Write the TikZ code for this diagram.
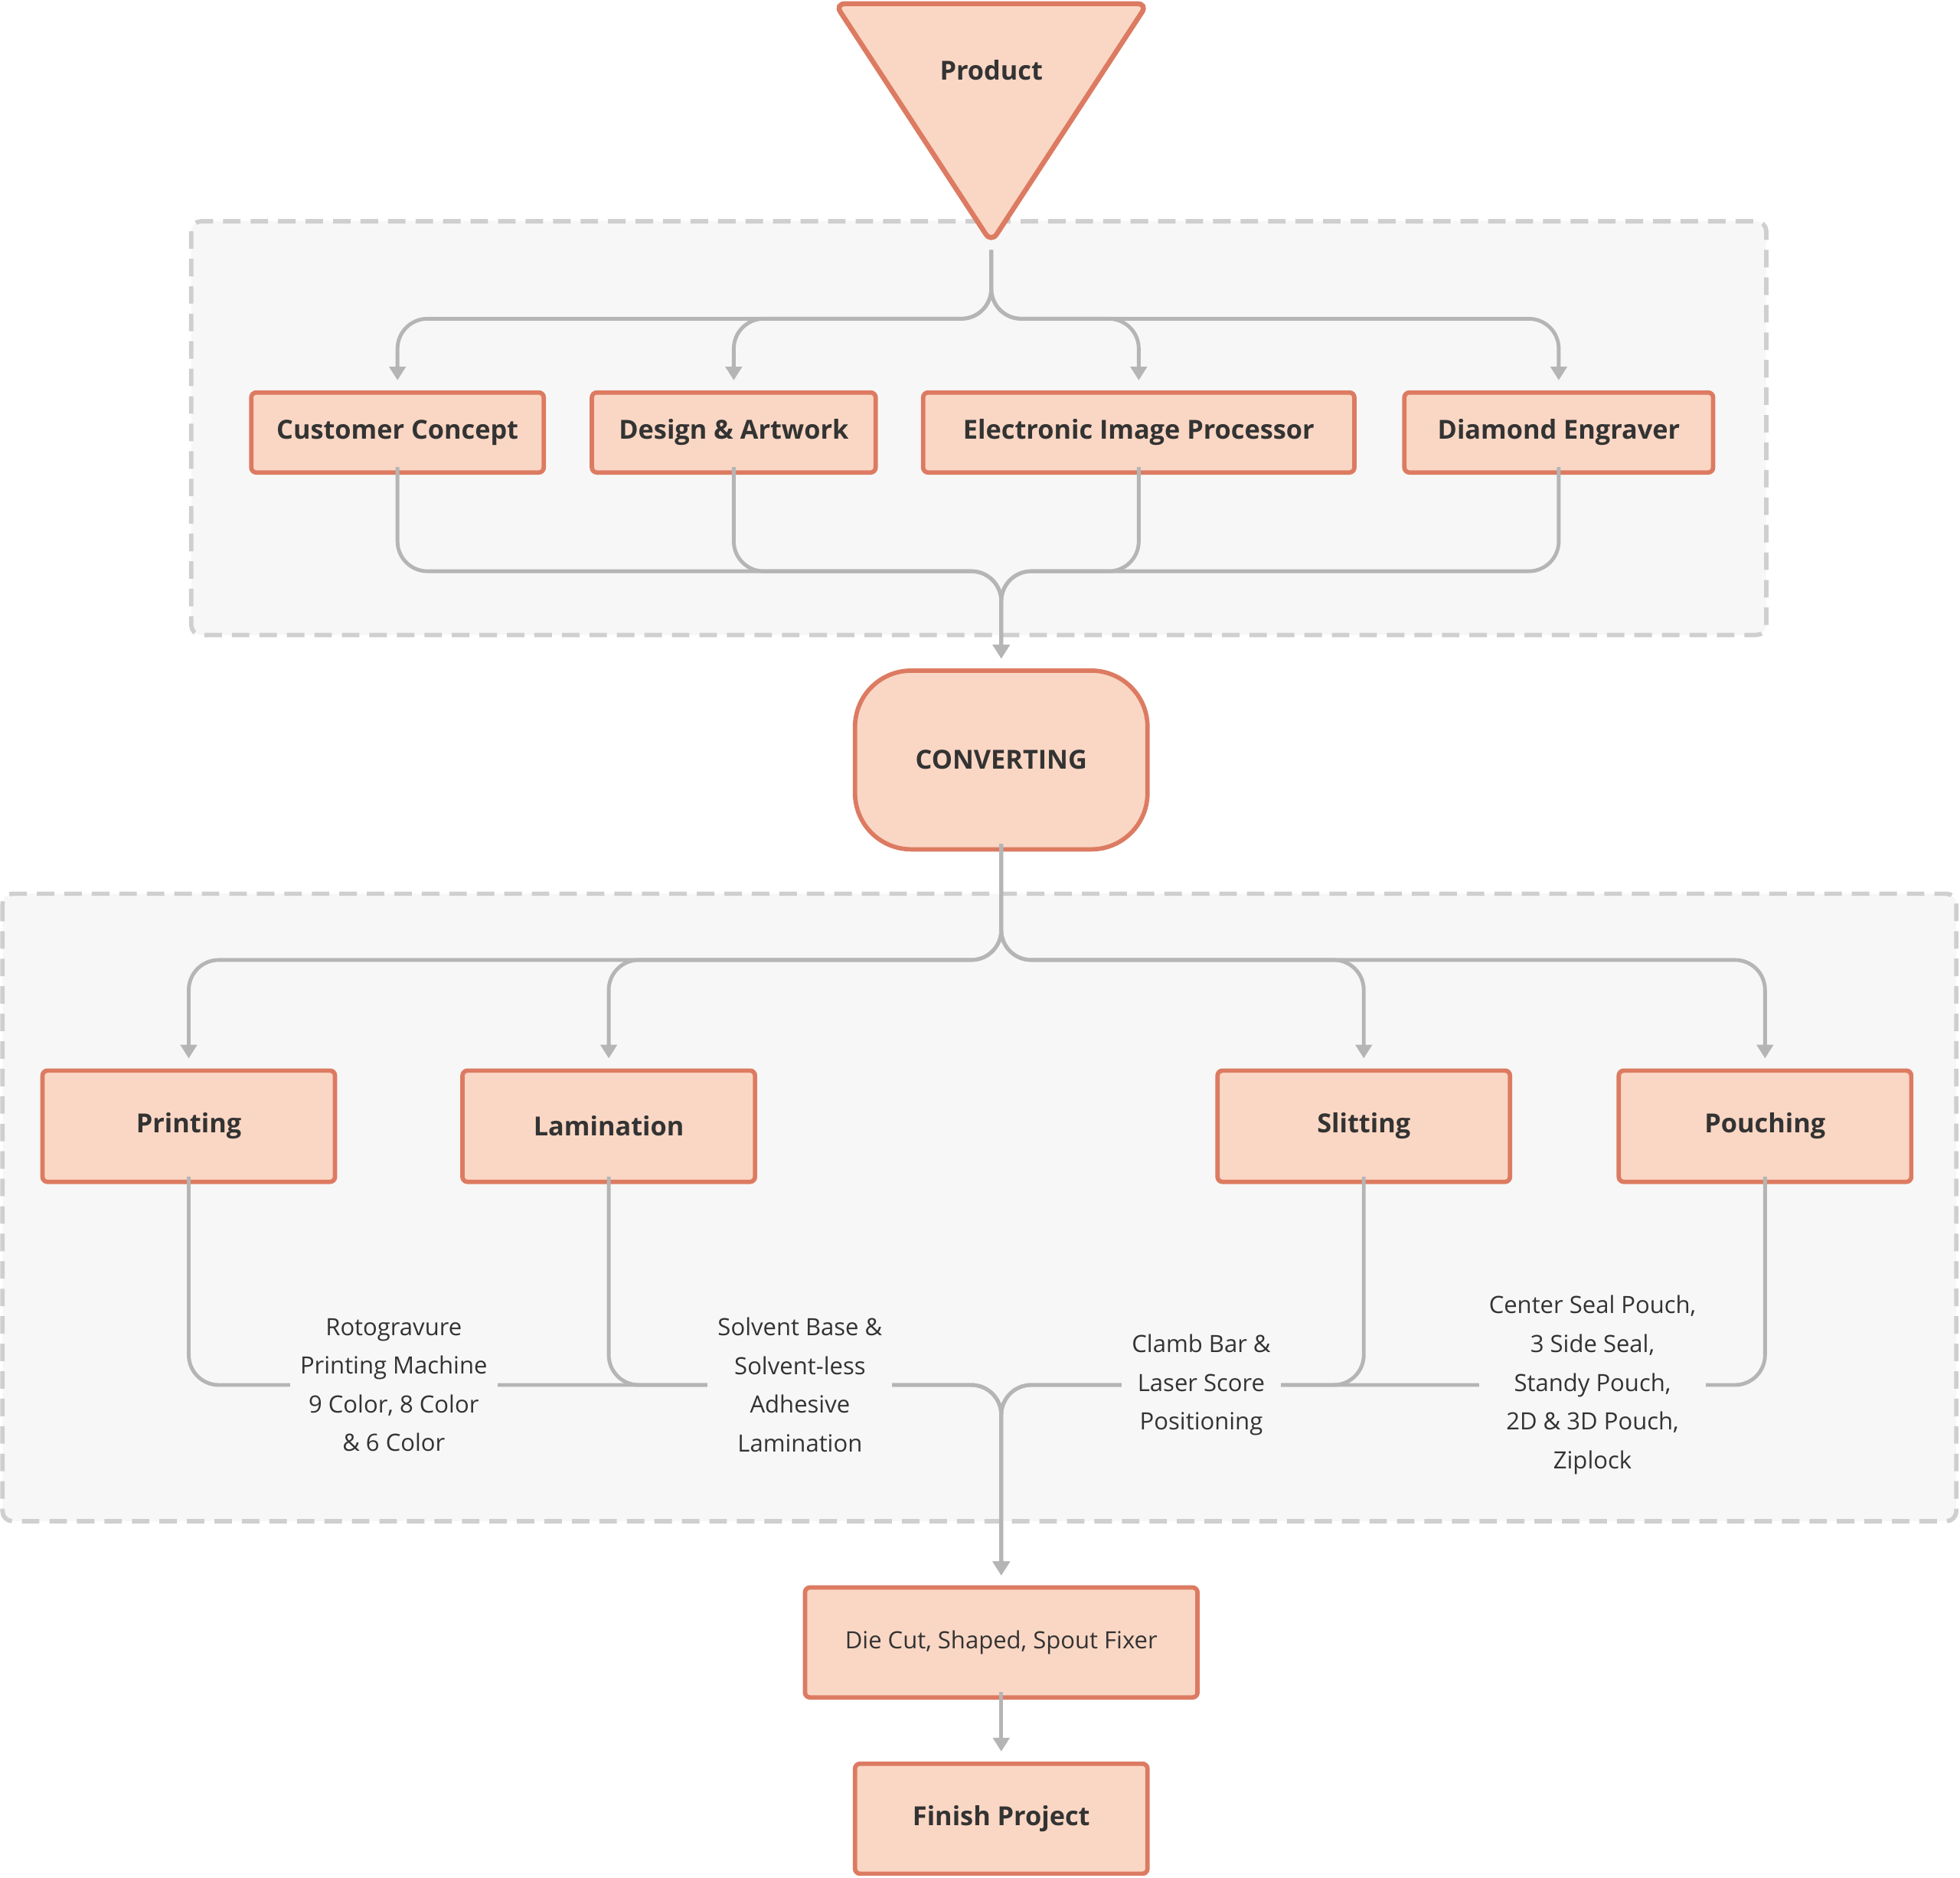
\documentclass[tikz,border=0pt]{standalone}
\usepackage{fontspec}
\setmainfont{Open Sans}
\usetikzlibrary{arrows.meta}
\definecolor{bfill}{HTML}{FAD7C4}
\definecolor{bdraw}{HTML}{DC7B62}
\definecolor{ln}{HTML}{B5B5B5}
\definecolor{grp}{HTML}{F7F7F7}
\definecolor{gd}{HTML}{CFCFCF}
\definecolor{tx}{HTML}{333333}
\begin{document}
\begin{tikzpicture}[x=1pt,y=-1pt,
 box/.style={draw=bdraw,fill=bfill,line width=3.5pt,rounded corners=4pt,text=tx,font=\fontsize{21}{26}\selectfont\bfseries,inner sep=0pt},
 grpbox/.style={draw=gd,fill=grp,line width=3.5pt,dash pattern=on 14pt off 8pt,rounded corners=8pt},
 con/.style={draw=ln,line width=3pt,rounded corners=24pt,-{Triangle[width=13pt,length=11pt]}},
 lab/.style={fill=grp,text=tx,font=\fontsize{19}{31}\selectfont,align=center,inner sep=8pt}]
\useasboundingbox (0,0) rectangle (1568,1502);
\fill[white] (0,0) rectangle (1568,1502);
\draw[grpbox] (153,177) rectangle (1413,508);
\draw[grpbox] (2,715) rectangle (1565,1217);
% product triangle
\draw[draw=bdraw,fill=bfill,line width=4pt,rounded corners=8pt] (668,3) -- (918,3) -- (793,194) -- cycle;
\node[text=tx,font=\fontsize{21}{26}\selectfont\bfseries] (prod) at (793,56) {Product};
\coordinate (pt) at (793,200);
% row 1
\node[box,minimum width=234pt,minimum height=64pt] (cc) at (318,346) {Customer Concept};
\node[box,minimum width=227pt,minimum height=64pt] (da) at (587,346) {Design \& Artwork};
\node[box,minimum width=345pt,minimum height=64pt] (ei) at (911,346) {Electronic Image Processor};
\node[box,minimum width=247pt,minimum height=64pt] (de) at (1247,346) {Diamond Engraver};
\node[box,minimum width=234pt,minimum height=143pt,rounded corners=45pt] (cv) at (801,608) {\fontsize{21}{26}\selectfont\bfseries CONVERTING};
\coordinate (b1) at (793,255);
\coordinate (m1) at (801,457);
\foreach \n in {cc,da,ei,de}{
 \draw[con,shorten >=8pt] (pt) -- (b1) -| (\n.north);
 \draw[con,shorten >=8pt] ([yshift=6pt]\n.south) |- (m1) -- (cv.north);
}
% row 2
\node[box,minimum width=234pt,minimum height=89pt] (pr) at (151,901) {Printing};
\node[box,minimum width=234pt,minimum height=89pt] (la) at (487,901) {Lamination};
\node[box,minimum width=234pt,minimum height=89pt] (sl) at (1091,901) {Slitting};
\node[box,minimum width=234pt,minimum height=89pt] (po) at (1412,901) {Pouching};
\node[box,minimum width=314pt,minimum height=88pt,font=\fontsize{19}{24}\selectfont] (die) at (801,1314) {Die Cut, Shaped, Spout Fixer};
\node[box,minimum width=234pt,minimum height=88pt] (fin) at (801,1455) {Finish Project};
\coordinate (b2) at (801,768);
\coordinate (m2) at (801,1108);
\foreach \n in {pr,la,sl,po}{
 \draw[con,shorten >=8pt] ([yshift=6pt]cv.south) -- (b2) -| (\n.north);
 \draw[con,shorten >=8pt] ([yshift=6pt]\n.south) |- (m2) -- (die.north);
}
\draw[con,shorten >=8pt] ([yshift=6pt]die.south) -- (fin.north);
% labels
\node[lab] (l1) at (315,1108) {Rotogravure\\Printing Machine\\9 Color, 8 Color\\\& 6 Color};
\node[lab] (l2) at (640,1108) {Solvent Base \&\\Solvent-less\\Adhesive\\Lamination};
\node[lab] (l3) at (961,1108) {Clamb Bar \&\\Laser Score\\Positioning};
\node[lab] (l4) at (1274,1108) {Center Seal Pouch,\\3 Side Seal,\\Standy Pouch,\\2D \& 3D Pouch,\\Ziplock};
\end{tikzpicture}
\end{document}
